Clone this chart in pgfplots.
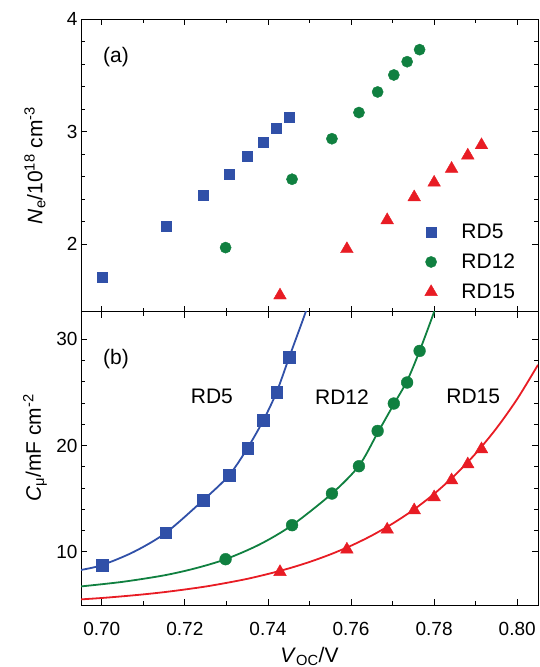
\documentclass[border=0pt]{standalone}
\usepackage{fontspec}
\setmainfont{Liberation Sans}
\usepackage{pgfplots}
\pgfplotsset{compat=1.18}
\definecolor{cB}{HTML}{3050A8}
\definecolor{cG}{HTML}{108040}
\definecolor{cR}{HTML}{E81C24}
\pgfplotsset{
  base/.style={
    scale only axis, width=457pt,
    xmin=0.695, xmax=0.805,
    xtick={0.70,0.72,0.74,0.76,0.78,0.80}, minor x tick num=1,
    tick align=inside, major tick length=6pt, minor tick length=4pt,
    axis line style={line width=0.9pt},
    every tick/.style={line width=0.9pt, black},
    every minor tick/.style={line width=0.9pt, black},
    /pgf/number format/assume math mode=true,
    tick label style={font=\fontsize{19}{19}\selectfont},
    label style={font=\fontsize{21}{21}\selectfont},
    clip=true,
  },
  sqB/.style={only marks, mark=square*, mark size=5pt, color=cB, mark options={fill=cB, draw=cB}},
  ciG/.style={only marks, mark=*, mark size=5.6pt, color=cG, mark options={fill=cG, draw=cG}},
  trR/.style={only marks, mark=triangle*, mark size=7.3pt, color=cR, mark options={fill=cR, draw=cR}},
}
\begin{document}
\begin{tikzpicture}
\useasboundingbox (0,0) rectangle (539pt,-667pt);
% ---------------- top panel (a)
\begin{axis}[base,
  at={(81pt,-19.3pt)}, anchor=north west, height=292.4pt,
  ymin=1.4, ymax=4, ytick={2,3,4}, minor y tick num=4,
  xticklabels={},
  ylabel={\textit{N}\textsubscript{e}/10\textsuperscript{18} cm\textsuperscript{-3}},
  ylabel style={at={(axis description cs:-0.1007,0.5)}, anchor=center},
  legend style={draw=none, fill=none, font=\fontsize{21}{21}\selectfont,
    at={(axis cs:0.7777,2.20)}, anchor=north west, inner xsep=0pt, inner ysep=0pt,
    row sep=10pt, column sep=22pt, legend cell align=left},
]
\addplot[sqB] coordinates {
(0.7001,1.705) (0.7154,2.162) (0.7244,2.434) (0.7306,2.622) (0.7351,2.781)
(0.7389,2.905) (0.7421,3.035) (0.7451,3.130)};
\addlegendentry{RD5}
\addplot[ciG] coordinates {
(0.7298,1.970) (0.7458,2.578) (0.7554,2.938) (0.7619,3.171) (0.7664,3.354)
(0.7703,3.505) (0.7735,3.623) (0.7765,3.730)};
\addlegendentry{RD12}
\addplot[trR] coordinates {
(0.7429,1.545) (0.7590,1.957) (0.7687,2.214) (0.7752,2.418) (0.7800,2.548)
(0.7842,2.671) (0.7881,2.789) (0.7914,2.881)};
\addlegendentry{RD15}
\node[anchor=west, inner sep=0pt, font=\fontsize{21}{21}\selectfont] at (axis cs:0.7003,3.66) {(a)};
\end{axis}
% ---------------- bottom panel (b)
\begin{axis}[base,
  at={(81pt,-311.7pt)}, anchor=north west, height=293.3pt,
  ymin=5, ymax=32.6, ytick={10,20,30}, minor y tick num=4,
  xticklabel style={/pgf/number format/fixed, /pgf/number format/fixed zerofill,
    /pgf/number format/precision=2, yshift=-14pt},
  xlabel={\textit{V}\textsubscript{OC}/V},
  xlabel style={at={(axis description cs:0.5,0)}, anchor=base, yshift=-57pt},
  ylabel={\textit{C}\textsubscript{μ}/mF cm\textsuperscript{-2}},
  ylabel style={at={(axis description cs:-0.1007,0.535)}, anchor=center},
]
% fitted curves
\addplot[cB, line width=1.8pt, smooth] coordinates {
(0.695,8.30) (0.700,8.75) (0.7077,10.0) (0.7154,11.79) (0.7244,14.86) (0.7306,17.19)
(0.7351,19.78) (0.7389,22.39) (0.7421,25.05) (0.7451,28.3) (0.7491,32.6) (0.7510,35.0)};
\addplot[cG, line width=1.8pt, smooth] coordinates {
(0.695,6.75) (0.705,7.18) (0.715,7.79) (0.7225,8.45) (0.7298,9.31) (0.738,10.7)
(0.7458,12.51) (0.7554,15.49) (0.7619,18.1) (0.7664,21.2) (0.7703,23.9) (0.7735,26.1)
(0.7765,28.91) (0.780,32.6) (0.7815,34.5)};
\addplot[cR, line width=1.8pt, smooth] coordinates {
(0.695,5.53) (0.700,5.66) (0.705,5.82) (0.710,6.00) (0.715,6.21) (0.720,6.46)
(0.725,6.74) (0.730,7.08) (0.735,7.46) (0.740,7.92) (0.745,8.44) (0.750,9.05)
(0.755,9.76) (0.760,10.58) (0.765,11.54) (0.770,12.66) (0.775,13.95) (0.780,15.46)
(0.785,17.22) (0.790,19.26) (0.795,21.63) (0.800,24.39) (0.805,27.60)};
% data
\addplot[sqB, mark size=5.8pt] coordinates {
(0.7001,8.75) (0.7154,11.79) (0.7244,14.86) (0.7306,17.19) (0.7351,19.78)
(0.7389,22.39) (0.7421,25.05) (0.7451,28.30)};
\addplot[ciG, mark size=5.9pt] coordinates {
(0.7298,9.31) (0.7458,12.51) (0.7554,15.49) (0.7619,18.06) (0.7664,21.38)
(0.7703,23.96) (0.7735,25.94) (0.7765,28.91)};
\addplot[trR] coordinates {
(0.7429,8.11) (0.7590,10.22) (0.7687,12.10) (0.7752,13.92) (0.7800,15.14)
(0.7842,16.74) (0.7881,18.24) (0.7914,19.66)};
\node[anchor=west, inner sep=0pt, font=\fontsize{21}{21}\selectfont] at (axis cs:0.7003,28.17) {(b)};
\node[anchor=west, inner sep=0pt, font=\fontsize{21}{21}\selectfont] at (axis cs:0.7214,24.6) {RD5};
\node[anchor=west, inner sep=0pt, font=\fontsize{21}{21}\selectfont] at (axis cs:0.7513,24.6) {RD12};
\node[anchor=west, inner sep=0pt, font=\fontsize{21}{21}\selectfont] at (axis cs:0.7829,24.6) {RD15};
\end{axis}
\end{tikzpicture}
\end{document}
